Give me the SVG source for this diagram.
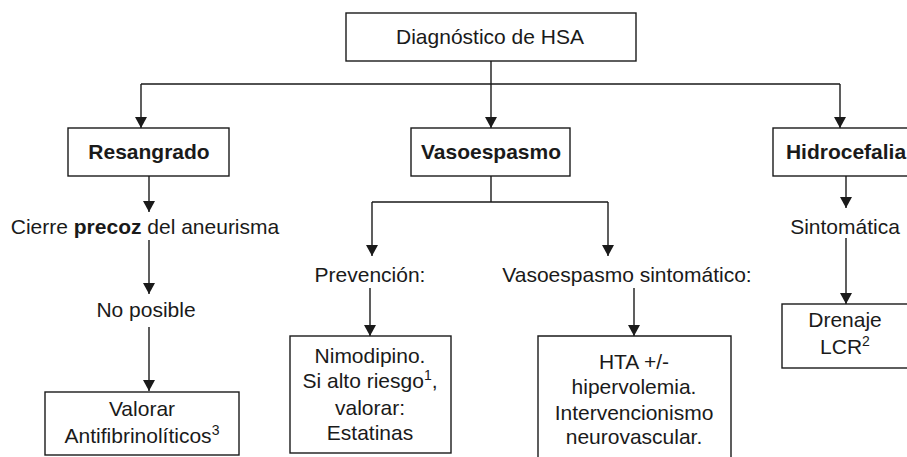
<svg xmlns="http://www.w3.org/2000/svg" width="907" height="457" viewBox="0 0 907 457">
<defs>
<marker id="arr" viewBox="0 0 11 12" refX="11" refY="6" markerWidth="11" markerHeight="12" markerUnits="userSpaceOnUse" orient="auto">
<path d="M0,0 L11,6 L0,12 z" fill="#1a1a1a"/>
</marker>
</defs>
<style>
.box{fill:#fff;stroke:#1a1a1a;stroke-width:1.4}
.ln{fill:none;stroke:#1a1a1a;stroke-width:1.4}
.ar{fill:none;stroke:#1a1a1a;stroke-width:1.4;marker-end:url(#arr)}
text{font-family:"Liberation Sans",Arial,sans-serif;font-size:21px;fill:#1a1a1a;text-anchor:middle}
.b{font-weight:bold}
.sup{font-size:14px}
</style>
<rect width="907" height="457" fill="#fff"/>
<g id="connectors">
<path class="ln" d="M491,61 V84 M141,84 H840"/>
<path class="ar" d="M141,84 V128"/>
<path class="ar" d="M491,84 V128"/>
<path class="ar" d="M840,84 V128"/>
<path class="ar" d="M149,176 V212"/>
<path class="ar" d="M149,240 V294"/>
<path class="ar" d="M149,327 V391"/>
<path class="ln" d="M491,176 V202 M372,202 H608"/>
<path class="ar" d="M372,202 V256"/>
<path class="ar" d="M608,202 V256"/>
<path class="ar" d="M370,288 V336"/>
<path class="ar" d="M634,288 V336"/>
<path class="ar" d="M846,176 V208"/>
<path class="ar" d="M846,238 V304"/>
</g>
<g id="diagnostico">
<rect class="box" x="346" y="13" width="290" height="48"/>
<text x="490" y="44">Diagnóstico de HSA</text>
</g>
<g id="resangrado">
<rect class="box" x="68" y="128" width="161" height="48"/>
<text class="b" x="149" y="159">Resangrado</text>
</g>
<g id="vasoespasmo">
<rect class="box" x="411" y="128" width="159" height="48"/>
<text class="b" x="491" y="159">Vasoespasmo</text>
</g>
<g id="hidrocefalia">
<rect class="box" x="773" y="128" width="146" height="48"/>
<text class="b" x="846" y="159">Hidrocefalia</text>
</g>
<g id="cierre">
<text x="145" y="234">Cierre <tspan class="b">precoz</tspan> del aneurisma</text>
</g>
<g id="noposible">
<text x="146" y="317">No posible</text>
</g>
<g id="valorar">
<rect class="box" x="45" y="392" width="194" height="63"/>
<text x="142" y="416">Valorar</text>
<text x="142" y="443">Antifibrinolíticos<tspan class="sup" dy="-8">3</tspan></text>
</g>
<g id="prevencion">
<text x="370" y="282">Prevención:</text>
</g>
<g id="sintomatico">
<text x="627" y="282">Vasoespasmo sintomático:</text>
</g>
<g id="nimodipino">
<rect class="box" x="290" y="336" width="161" height="117"/>
<text x="370" y="363">Nimodipino.</text>
<text x="370" y="388">Si alto riesgo<tspan class="sup" dy="-8">1</tspan><tspan dy="8">,</tspan></text>
<text x="370" y="415">valorar:</text>
<text x="370" y="440">Estatinas</text>
</g>
<g id="hta">
<path class="box" d="M538,462 V336 H731 V462"/>
<text x="634" y="369">HTA +/-</text>
<text x="634" y="394">hipervolemia.</text>
<text x="634" y="420">Intervencionismo</text>
<text x="634" y="444">neurovascular.</text>
</g>
<g id="sintomatica">
<text x="845" y="234">Sintomática</text>
</g>
<g id="drenaje">
<rect class="box" x="782" y="304" width="135" height="64"/>
<text x="845" y="327">Drenaje</text>
<text x="845" y="354">LCR<tspan class="sup" dy="-8">2</tspan></text>
</g>
</svg>
